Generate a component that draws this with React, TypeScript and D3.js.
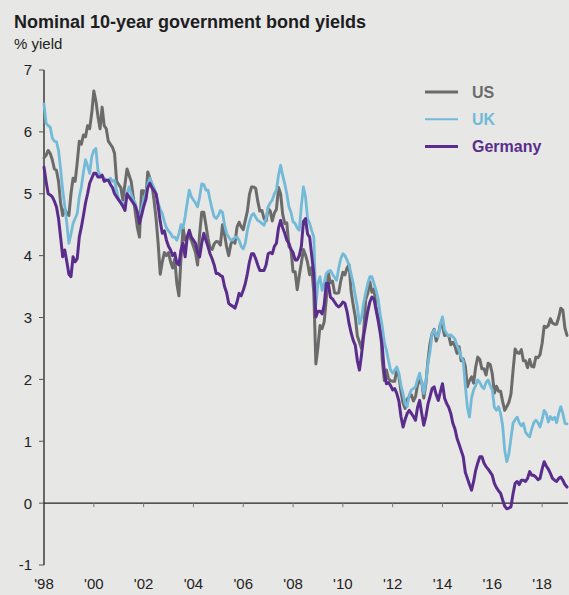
import React from 'react';
import * as d3 from 'd3';

const startYear = 1998;

const usYields = [
  5.58, 5.62, 5.70, 5.65, 5.55, 5.40, 5.38, 5.20, 4.85, 4.65, 4.75, 4.68,
  4.65, 5.00, 5.25, 5.20, 5.50, 5.85, 5.80, 5.95, 5.92, 6.10, 6.05, 6.30,
  6.66, 6.50, 6.25, 6.05, 6.40, 6.10, 6.05, 5.85, 5.80, 5.75, 5.65, 5.20,
  5.15, 5.10, 4.90, 5.15, 5.40, 5.30, 5.20, 4.95, 4.70, 4.45, 4.30, 5.05,
  5.05, 4.90, 5.35, 5.25, 5.15, 4.90, 4.60, 4.20, 3.70, 3.90, 4.05, 4.00,
  4.05, 3.90, 3.80, 3.95, 3.55, 3.35, 3.95, 4.45, 4.25, 4.30, 4.30, 4.25,
  4.15, 4.05, 3.85, 4.35, 4.70, 4.70, 4.50, 4.28, 4.13, 4.10, 4.19, 4.23,
  4.22, 4.17, 4.50, 4.34, 4.14, 4.00, 4.18, 4.26, 4.20, 4.46, 4.54, 4.47,
  4.42, 4.57, 4.72, 4.99, 5.11, 5.11, 5.09, 4.88, 4.72, 4.73, 4.60, 4.56,
  4.76, 4.72, 4.56, 4.69, 4.75, 5.10, 5.00, 4.67, 4.52, 4.53, 4.15, 4.10,
  3.74, 3.74, 3.45, 3.68, 3.88, 4.10, 4.01, 3.89, 3.69, 3.81, 3.40, 2.25,
  2.52, 2.87, 2.82, 2.93, 3.29, 3.72, 3.56, 3.59, 3.40, 3.39, 3.40, 3.59,
  3.73, 3.69, 3.80, 3.85, 3.42, 3.20, 3.01, 2.70, 2.60, 2.50, 2.76, 3.29,
  3.39, 3.58, 3.41, 3.46, 3.17, 3.00, 3.00, 2.30, 1.98, 2.15, 2.01, 1.98,
  1.97, 1.97, 2.17, 2.05, 1.80, 1.62, 1.53, 1.68, 1.72, 1.75, 1.65, 1.72,
  1.91, 1.98, 1.96, 1.70, 1.93, 2.30, 2.58, 2.74, 2.81, 2.62, 2.72, 2.90,
  2.86, 2.71, 2.72, 2.71, 2.56, 2.60, 2.54, 2.42, 2.53, 2.30, 2.33, 2.21,
  1.88, 1.98, 2.04, 1.94, 2.20, 2.36, 2.32, 2.17, 2.17, 2.07, 2.26, 2.24,
  2.09, 1.78, 1.89, 1.81, 1.81, 1.64, 1.50, 1.56, 1.63, 1.76, 2.14, 2.49,
  2.43, 2.42, 2.48, 2.30, 2.30, 2.19, 2.32, 2.21, 2.20, 2.36, 2.35, 2.40,
  2.58, 2.86, 2.84, 2.87, 2.98, 2.91, 2.89, 2.89, 3.00, 3.15, 3.12, 2.83,
  2.71,
];

const ukYields = [
  6.45, 6.14, 6.10, 6.08, 5.90, 5.85, 5.84, 5.70, 5.40, 5.06, 4.80, 4.52,
  4.20, 4.35, 4.52, 4.60, 4.68, 4.95, 5.11, 5.35, 5.55, 5.45, 5.33, 5.60,
  5.70, 5.73, 5.38, 5.30, 5.30, 5.25, 5.22, 5.22, 5.25, 5.20, 5.22, 5.05,
  4.90, 4.88, 4.85, 4.79, 5.00, 5.11, 5.00, 4.90, 4.85, 4.70, 4.57, 4.75,
  4.90, 5.00, 5.15, 5.25, 5.17, 5.10, 5.00, 4.85, 4.75, 4.68, 4.55, 4.45,
  4.40, 4.36, 4.30, 4.30, 4.25, 4.35, 4.50, 4.45, 4.63, 4.85, 5.06, 4.95,
  4.90, 4.85, 4.79, 4.95, 5.16, 5.15, 5.06, 5.06, 4.90, 4.75, 4.63, 4.60,
  4.65, 4.73, 4.70, 4.50, 4.36, 4.30, 4.25, 4.25, 4.30, 4.30, 4.25, 4.15,
  4.11, 4.20, 4.41, 4.55, 4.65, 4.68, 4.62, 4.57, 4.55, 4.52, 4.49, 4.60,
  4.79, 4.85, 4.90, 5.00, 5.06, 5.30, 5.46, 5.30, 5.16, 5.00, 4.79, 4.70,
  4.55, 4.52, 4.45, 4.41, 4.80, 5.11, 4.95, 4.60, 4.52, 4.40, 4.30, 3.20,
  3.55, 3.66, 3.44, 3.55, 3.71, 3.75, 3.76, 3.70, 3.65, 3.60, 3.80, 3.95,
  4.03, 4.00, 3.93, 3.85, 3.70, 3.55, 3.35, 3.17, 2.90, 3.00, 3.23, 3.40,
  3.55, 3.66, 3.66, 3.55, 3.44, 3.30, 3.05, 2.85, 2.60, 2.47, 2.30, 2.15,
  2.10, 2.15, 2.20, 2.10, 1.90, 1.77, 1.60, 1.56, 1.75, 1.83, 1.85, 1.88,
  2.00, 2.10, 1.95, 1.77, 1.95, 2.26, 2.45, 2.74, 2.80, 2.70, 2.69, 2.90,
  3.01, 2.80, 2.74, 2.70, 2.72, 2.69, 2.65, 2.55, 2.47, 2.36, 2.30, 1.90,
  1.55, 1.39, 1.70, 1.83, 1.90, 1.99, 1.95, 1.88, 1.85, 1.95, 1.99, 1.90,
  1.83, 1.55, 1.50, 1.56, 1.45, 1.25, 0.85, 0.67, 0.80, 1.05, 1.29, 1.35,
  1.39, 1.30, 1.25, 1.29, 1.15, 1.10, 1.07, 1.20, 1.30, 1.34, 1.30, 1.23,
  1.35, 1.50, 1.45, 1.31, 1.40, 1.35, 1.39, 1.30, 1.45, 1.56, 1.45, 1.29,
  1.28,
];

const germanyYields = [
  5.43, 5.20, 5.00, 4.98, 4.95, 4.88, 4.79, 4.60, 4.30, 3.98, 4.09, 3.90,
  3.70, 3.66, 3.98, 3.90, 3.95, 4.30, 4.46, 4.65, 4.85, 5.00, 5.17, 5.25,
  5.33, 5.33, 5.27, 5.27, 5.30, 5.20, 5.22, 5.22, 5.15, 5.10, 5.00, 4.95,
  4.90, 4.85, 4.80, 4.73, 5.00, 4.95, 4.90, 4.85, 4.80, 4.70, 4.52, 4.65,
  4.79, 4.90, 5.10, 5.17, 5.10, 5.05, 5.00, 4.80, 4.55, 4.36, 4.40, 4.25,
  4.15, 4.09, 4.00, 4.04, 3.88, 3.85, 4.09, 4.20, 3.98, 4.30, 4.41, 4.30,
  4.25, 4.20, 4.05, 3.98, 4.20, 4.36, 4.25, 4.15, 4.03, 3.95, 3.85, 3.71,
  3.71, 3.68, 3.66, 3.50, 3.40, 3.23, 3.20, 3.18, 3.15, 3.25, 3.39, 3.35,
  3.44, 3.55, 3.71, 3.90, 4.03, 4.03, 3.95, 3.85, 3.76, 3.76, 3.76, 3.85,
  4.03, 4.05, 4.03, 4.15, 4.20, 4.45, 4.57, 4.45, 4.36, 4.25, 4.20, 4.10,
  4.05, 3.93, 3.93, 4.00, 4.15, 4.55, 4.60, 4.35, 4.30, 4.00, 3.71, 3.01,
  3.10, 3.10, 3.06, 3.20, 3.55, 3.55, 3.33, 3.30, 3.25, 3.20, 3.17, 3.20,
  3.25, 3.23, 3.10, 2.90, 2.75, 2.63, 2.55, 2.30, 2.15, 2.40, 2.70, 2.90,
  3.10, 3.25, 3.33, 3.30, 3.12, 2.95, 2.75, 2.53, 2.10, 1.93, 1.95, 1.90,
  1.83, 1.85, 1.77, 1.65, 1.40, 1.23, 1.35, 1.45, 1.50, 1.45, 1.40, 1.34,
  1.55, 1.66, 1.45, 1.26, 1.40, 1.60, 1.72, 1.85, 1.88, 1.75, 1.66, 1.80,
  1.93, 1.70, 1.61, 1.55, 1.45, 1.29, 1.20, 1.05, 0.95, 0.85, 0.75, 0.50,
  0.40, 0.30, 0.21, 0.35, 0.53, 0.65, 0.75, 0.75, 0.65, 0.59, 0.55, 0.50,
  0.45, 0.32, 0.25, 0.20, 0.16, 0.05, -0.05, -0.09, -0.08, -0.06, 0.15, 0.32,
  0.35, 0.30, 0.37, 0.37, 0.35, 0.40, 0.51, 0.45, 0.45, 0.42, 0.38, 0.40,
  0.55, 0.67, 0.60, 0.55, 0.48, 0.40, 0.37, 0.35, 0.40, 0.42, 0.37, 0.30,
  0.26,
];

const seriesNames = ['US', 'UK', 'Germany'];
const seriesColors = ['#6b6b6b', '#72bad8', '#5a2d8c'];
const seriesWidths = [3, 2.8, 3];
const legendWidths = [3, 2, 3];

const yTicks = [-1, 0, 1, 2, 3, 4, 5, 6, 7];
const xTickYears = [1998, 2000, 2002, 2004, 2006, 2008, 2010, 2012, 2014, 2016, 2018];
const xTickLabels = ["'98", "'00", "'02", "'04", "'06", "'08", "'10", "'12", "'14", "'16", "'18"];

const title = 'Nominal 10-year government bond yields';
const yUnit = '% yield';

export default function App() {
  const W = 569;
  const H = 595;
  const font = 'Liberation Sans, Arial, sans-serif';

  const x = d3.scaleLinear().domain([startYear, 2019]).range([44, 567]);
  const y = d3.scaleLinear().domain([-1, 7]).range([565, 70]);

  const allSeries = [usYields, ukYields, germanyYields];
  const line = d3
    .line<number>()
    .x((_, i) => x(startYear + i / 12))
    .y((d) => y(d));

  const axisX = x(startYear);

  return (
    <svg
      width={W}
      height={H}
      style={{ position: 'absolute', left: 0, top: 0, display: 'block' }}
      fontFamily={font}
    >
      <rect x={0} y={0} width={W} height={H} fill="#e7e7e5" />

      <text x={14} y={28} fontSize={18} fontWeight="bold" fill="#1d1d1f">
        {title}
      </text>
      <text x={14} y={49} fontSize={15} fill="#222">
        {yUnit}
      </text>

      {/* y axis */}
      <line x1={axisX} x2={axisX} y1={y(7)} y2={y(-1)} stroke="#222" strokeWidth={1.3} />
      {yTicks.map((t) => (
        <g key={t}>
          <line x1={axisX - 5} x2={axisX} y1={y(t)} y2={y(t)} stroke="#555" strokeWidth={1} />
          <text
            x={32}
            y={y(t)}
            dy="0.36em"
            textAnchor="end"
            fontSize={15}
            fill="#222"
          >
            {t}
          </text>
        </g>
      ))}

      {/* zero line */}
      <line x1={axisX} x2={W - 1} y1={y(0)} y2={y(0)} stroke="#222" strokeWidth={1.3} />
      {xTickYears.slice(1).map((yr) => (
        <line
          key={yr}
          x1={x(yr)}
          x2={x(yr)}
          y1={y(0)}
          y2={y(0) + 4}
          stroke="#777"
          strokeWidth={1}
        />
      ))}

      {/* x labels */}
      {xTickYears.map((yr, i) => (
        <text key={yr} x={x(yr)} y={589} textAnchor="middle" fontSize={15} fill="#222">
          {xTickLabels[i]}
        </text>
      ))}

      {/* series */}
      {allSeries.map((s, i) => (
        <path
          key={seriesNames[i]}
          d={line(s) || ''}
          fill="none"
          stroke={seriesColors[i]}
          strokeWidth={seriesWidths[i]}
          strokeLinejoin="round"
          strokeLinecap="round"
        />
      ))}

      {/* legend */}
      {seriesNames.map((n, i) => {
        const ly = 92 + i * 27.3;
        return (
          <g key={n}>
            <line
              x1={425}
              x2={458}
              y1={ly}
              y2={ly}
              stroke={seriesColors[i]}
              strokeWidth={legendWidths[i]}
            />
            <text
              x={472}
              y={ly}
              dy="0.36em"
              fontSize={16}
              fontWeight="bold"
              fill={seriesColors[i]}
            >
              {n}
            </text>
          </g>
        );
      })}
    </svg>
  );
}
